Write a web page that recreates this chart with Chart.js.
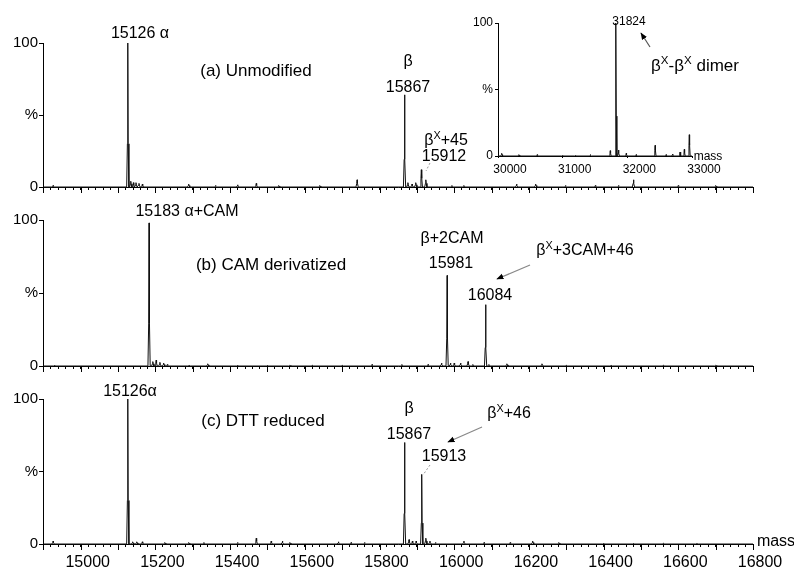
<!DOCTYPE html>
<html>
<head>
<meta charset="utf-8">
<script src="https://cdn.jsdelivr.net/npm/chart.js@4.4.1/dist/chart.umd.min.js"></script>
<style>
  body { margin: 0; background: #fff; width: 794px; height: 573px; position: relative; overflow: hidden;
         font-family: Arial, "Liberation Sans", Helvetica, sans-serif; }
  canvas { position: absolute; }
  .lbl { position: absolute; color: #000; white-space: nowrap; line-height: 1; transform: translate(-50%, -50%); }
  .lbl sup { font-size: 0.68em; vertical-align: 0.55em; line-height: 0; }
  svg { position: absolute; left: 0; top: 0; }
</style>
</head>
<body>
<canvas id="chartA" width="794" height="170" style="left:0;top:30px"></canvas>
<canvas id="chartB" width="794" height="175" style="left:0;top:205px"></canvas>
<canvas id="chartC" width="794" height="188" style="left:0;top:385px"></canvas>
<canvas id="chartD" width="300" height="185" style="left:440px;top:0"></canvas>
<svg width="794" height="573">
  <defs>
    <marker id="head" viewBox="0 0 10 10" refX="9" refY="5" markerWidth="6" markerHeight="6" orient="auto">
      <path d="M0,1 L10,5 L0,9 z" fill="#000"/>
    </marker>
  </defs>
  <line x1="530" y1="265" x2="497" y2="279" stroke="#888" stroke-width="1.2" marker-end="url(#head)"/>
  <line x1="482" y1="427" x2="448" y2="442" stroke="#888" stroke-width="1.2" marker-end="url(#head)"/>
  <line x1="650" y1="47" x2="641" y2="33" stroke="#555" stroke-width="1.2" marker-end="url(#head)"/>
  <line x1="430" y1="163" x2="426" y2="171" stroke="#999" stroke-width="1" stroke-dasharray="2,2"/>
  <line x1="430" y1="465" x2="423" y2="475" stroke="#999" stroke-width="1" stroke-dasharray="2,2"/>
</svg>
<script>
const FONT = 'Arial, "Liberation Sans", Helvetica, sans-serif';
Chart.defaults.font.family = FONT;
Chart.defaults.color = '#000';

// mass axis of the three stacked spectra
const massMin = 14899;
const massMax = 16800;

// (a) unmodified
const massA = [14926, 15126, 15134, 15141, 15148, 15156, 15165, 15289, 15361, 15420, 15470, 15530,
               15640, 15740, 15867, 15876, 15887, 15897, 15912, 15924, 15994, 16026, 16167, 16218,
               16298, 16378, 16440, 16480, 16600, 16700];
const intA  = [1, 100, 4, 3, 3, 2.5, 2, 2, 1, 1.5, 2.5, 1,
               1, 5, 64, 3, 2, 3, 12, 5, 1, 1, 2, 2,
               1, 1, 1, 5, 1, 1];

// (b) CAM derivatized
const massB = [14930, 15183, 15193, 15202, 15212, 15222, 15232, 15290, 15340, 15420, 15500, 15560,
               15620, 15700, 15780, 15860, 15930, 15966, 15981, 15990, 16000, 16017, 16037, 16050,
               16084, 16093, 16141, 16235, 16300, 16420, 16560, 16700];
const intB  = [0.5, 98, 3, 4, 2.5, 2, 1, 0.5, 1.5, 0.5, 0.5, 0.5,
               0.5, 0.5, 1, 1, 1, 2, 62, 2, 2, 2, 3, 1,
               42, 1, 1.5, 1.5, 0.5, 0.5, 0.5, 0.5];

// (c) DTT reduced
const massC = [14926, 15126, 15139, 15150, 15165, 15225, 15289, 15330, 15420, 15470, 15510, 15540,
               15560, 15690, 15724, 15760, 15867, 15879, 15888, 15898, 15913, 15924, 15935, 15950,
               16026, 16080, 16150, 16210, 16280, 16400, 16480, 16560, 16650];
const intC  = [2, 100, 1.5, 1.5, 1.5, 1, 1, 1, 1, 4, 2, 2,
               1, 1.5, 1, 1, 70, 3, 2, 2, 48, 4, 2, 1,
               2, 1, 1, 2, 1, 0.5, 0.5, 0.5, 0.5];

// inset: dimer region
const massD = [30057, 30323, 30607, 31000, 31200, 31428, 31736, 31824, 31864, 31983, 32137, 32430,
               32600, 32700, 32815, 32881, 32958];
const intD  = [2, 1, 1, 0.5, 0.5, 1, 4, 100, 4.5, 2, 1, 8,
               1, 1.5, 3, 5, 16];

const yTickText = { 0: '0', 50: '%', 100: '100' };

// stick-like profile for each centroid, with a slightly wider foot
function spectrum(masses, heights, hw, lo, hi) {
  const pts = [{ x: lo, y: 0 }];
  masses.forEach((m, i) => {
    const h = heights[i];
    const foot = h > 20 ? h * 0.3 : h * 0.5;
    pts.push({ x: m - hw, y: 0 }, { x: m - hw * 0.35, y: foot }, { x: m, y: h },
             { x: m + hw * 0.35, y: foot }, { x: m + hw, y: 0 });
  });
  pts.push({ x: hi, y: 0 });
  return pts;
}

// longer ticks every `step` along the mass axis
const majorTicks = {
  id: 'majorTicks',
  afterDraw(chart, args, opts) {
    if (!opts.step) return;
    const xs = chart.scales.x, ctx = chart.ctx;
    ctx.save();
    ctx.strokeStyle = '#000';
    ctx.lineWidth = 1;
    for (let v = Math.ceil(xs.min / opts.step) * opts.step; v <= xs.max; v += opts.step) {
      const px = Math.round(xs.getPixelForValue(v)) + 0.5;
      ctx.beginPath();
      ctx.moveTo(px, xs.top);
      ctx.lineTo(px, xs.top + opts.len);
      ctx.stroke();
    }
    ctx.restore();
  }
};

function makeSpectrum(id, pts, o) {
  new Chart(document.getElementById(id), {
    type: 'line',
    data: { datasets: [{ data: pts, borderColor: '#111', borderWidth: 1, pointRadius: 0, tension: 0, clip: false }] },
    options: {
      responsive: false,
      animation: false,
      layout: { padding: { top: o.top, right: o.right, left: 0, bottom: 0 } },
      plugins: { legend: { display: false }, tooltip: { enabled: false }, majorTicks: { step: o.major, len: 6 } },
      scales: {
        x: {
          type: 'linear', min: o.min, max: o.max,
          border: { color: '#000', width: 1 },
          grid: { drawOnChartArea: false, tickLength: o.tickLen, color: '#000' },
          ticks: {
            stepSize: o.step, autoSkip: false, maxRotation: 0, includeBounds: false,
            labelOffset: o.labelOffset, padding: o.labelPad,
            font: { size: o.xFont },
            callback: v => (o.labelEvery && v % o.labelEvery === 0) ? String(v) : ''
          },
          afterFit: s => { s.height = o.xHeight; }
        },
        y: {
          min: 0, max: 100,
          border: { color: '#000', width: 1 },
          grid: { drawOnChartArea: false, tickLength: o.yTick, color: '#000' },
          ticks: { stepSize: 50, padding: o.yPad, font: { size: o.yFont }, callback: v => yTickText[v] || '' },
          afterFit: s => { s.width = o.yWidth; }
        }
      }
    },
    plugins: [majorTicks]
  });
}

const mainAxis = { min: massMin, max: massMax, right: 41, step: 20, major: 100, tickLen: 3,
                   labelOffset: 7, labelPad: 6, xFont: 16, yTick: 4, yPad: 1, yFont: 15, yWidth: 43 };

makeSpectrum('chartA', spectrum(massA, intA, 3, massMin, massMax),
  Object.assign({}, mainAxis, { top: 13, xHeight: 13, labelEvery: 0 }));
makeSpectrum('chartB', spectrum(massB, intB, 3, massMin, massMax),
  Object.assign({}, mainAxis, { top: 15, xHeight: 14, labelEvery: 0 }));
makeSpectrum('chartC', spectrum(massC, intC, 3, massMin, massMax),
  Object.assign({}, mainAxis, { top: 14, xHeight: 29, labelEvery: 200 }));
makeSpectrum('chartD', spectrum(massD, intD, 14, 30000, 33000),
  { min: 30000, max: 33000, right: 48, top: 23, xHeight: 29, step: 1000, major: 0, tickLen: 2,
    labelOffset: 12, labelPad: 4, xFont: 12, labelEvery: 1000, yTick: 3, yPad: 2, yFont: 12, yWidth: 58 });

// peak annotations and panel titles
const labels = [
  ['15126 &alpha;', 140, 33, 16],
  ['(a) Unmodified', 256, 70, 17],
  ['&beta;', 408, 61, 16],
  ['15867', 408, 87, 16],
  ['&beta;<sup>X</sup>+45', 446, 140, 16],
  ['15912', 444, 156, 16],
  ['31824', 629, 21, 12],
  ['&beta;<sup>X</sup>-&beta;<sup>X</sup> dimer', 695, 65, 17],
  ['mass', 708, 156, 12],
  ['15183 &alpha;+CAM', 187, 211, 16],
  ['(b) CAM derivatized', 271, 264, 17],
  ['&beta;+2CAM', 452, 238, 16],
  ['15981', 451, 263, 16],
  ['&beta;<sup>X</sup>+3CAM+46', 585, 250, 16],
  ['16084', 490, 295, 16],
  ['15126&alpha;', 130, 391, 16],
  ['(c) DTT reduced', 263, 420, 17],
  ['&beta;', 409, 408, 16],
  ['15867', 409, 434, 16],
  ['&beta;<sup>X</sup>+46', 509, 413, 16],
  ['15913', 444, 456, 16],
  ['mass', 776, 541, 16]
];
labels.forEach(([html, x, y, size]) => {
  const d = document.createElement('div');
  d.className = 'lbl';
  d.innerHTML = html;
  d.style.left = x + 'px';
  d.style.top = y + 'px';
  d.style.fontSize = size + 'px';
  document.body.appendChild(d);
});
</script>
</body>
</html>
